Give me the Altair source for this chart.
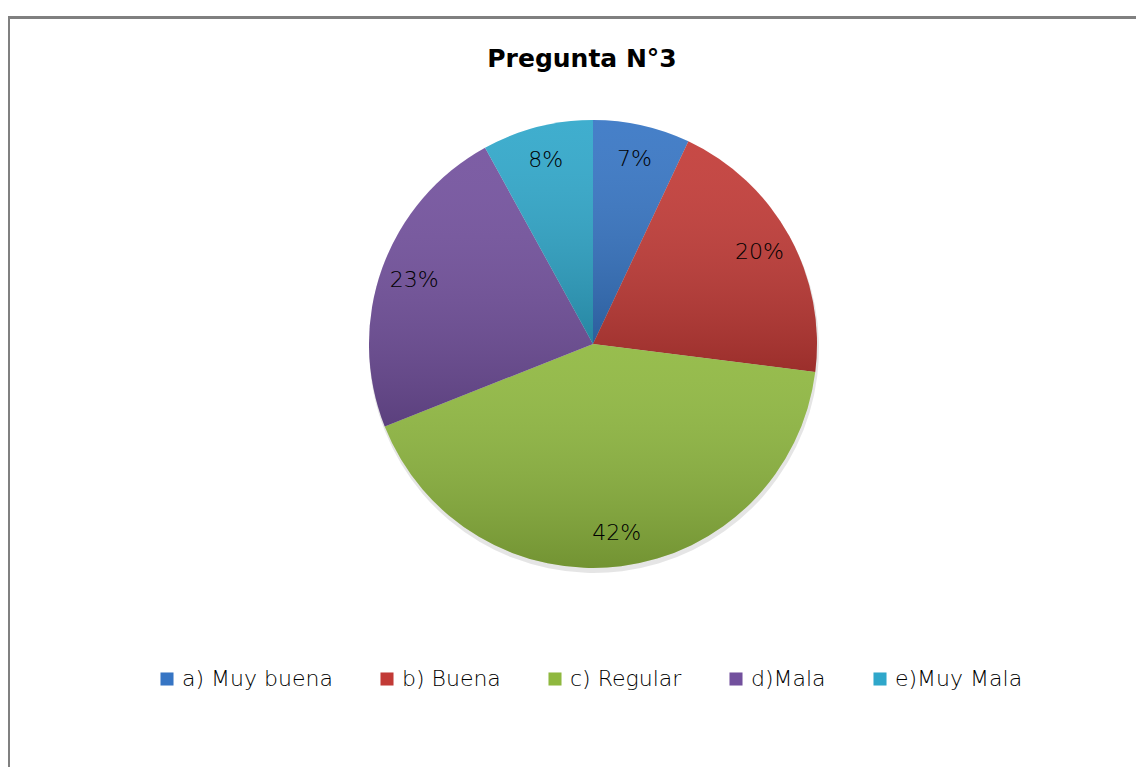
import altair as alt
import pandas as pd

# ---- data ----
categories = ["a) Muy buena", "b) Buena", "c) Regular", "d)Mala", "e)Muy Mala"]
values = [7, 20, 42, 23, 8]
labels = ["7%", "20%", "42%", "23%", "8%"]
slice_order = [1, 2, 3, 4, 5]
colors = ["#3675C4", "#C23A36", "#8FB83F", "#72509D", "#2FA7CA"]

df = pd.DataFrame({"cat": categories, "value": values, "label": labels, "ord": slice_order})

# ---- layout ----
W, H = 1128, 750
CX, CY, R = 585, 327, 224
LABEL_R = 190
FONT = "DejaVu Sans"

base = alt.Chart(df).encode(
    theta=alt.Theta("value:Q", stack=True),
    order=alt.Order("ord:Q"),
)

shadow = base.mark_arc(radius=R + 1, x=CX + 1, y=CY + 4, color="#000000", opacity=0.10).encode(
    detail="cat:N"
)

pie = base.mark_arc(radius=R, x=CX, y=CY).encode(
    color=alt.Color(
        "cat:N",
        scale=alt.Scale(domain=categories, range=colors),
        legend=alt.Legend(
            title=None,
            orient="none",
            legendX=148,
            legendY=651,
            direction="horizontal",
            symbolType="square",
            symbolSize=170,
            symbolStrokeWidth=0,
            symbolOpacity=1,
            labelOffset=4,
            labelFont=FONT,
            labelFontSize=22,
            labelFontWeight=200,
            labelColor="#000000",
            columnPadding=43,
            labelLimit=400,
        ),
    )
)

shade = base.mark_arc(
    radius=R,
    x=CX,
    y=CY,
    color=alt.Gradient(
        gradient="linear",
        x1=0, y1=0, x2=0, y2=1,
        stops=[
            alt.GradientStop(offset=0, color="rgba(255,255,255,0.08)"),
            alt.GradientStop(offset=1, color="rgba(0,0,0,0.20)"),
        ],
    ),
).encode(detail="cat:N")

text = base.mark_text(
    radius=LABEL_R, x=CX, y=CY, font=FONT, fontSize=22, fontWeight=200, color="#000000"
).encode(text="label:N", detail="cat:N")

border_top = alt.Chart(df).mark_rule(color="#808080", strokeWidth=3, strokeCap="square").encode(
    x=alt.value(0.5), x2=alt.value(W + 20), y=alt.value(0.5)
)
border_left = alt.Chart(df).mark_rule(color="#808080", strokeWidth=3, strokeCap="square").encode(
    x=alt.value(0.5), y=alt.value(0.5), y2=alt.value(H + 20)
)

chart = (
    alt.layer(shadow, pie, shade, text, border_top, border_left)
    .properties(
        width=W,
        height=H,
        autosize="none",
        padding={"left": 0, "top": 9, "right": 0, "bottom": 0},
        title=alt.TitleParams(
            "Pregunta N°3",
            font=FONT,
            fontSize=25,
            fontWeight="bold",
            color="#000000",
            anchor="middle",
            offset=-57,
            dx=10,
        ),
    )
    .configure_view(stroke=None)
)

chart.save("out.html", embed_options={"renderer": "svg", "actions": False})
